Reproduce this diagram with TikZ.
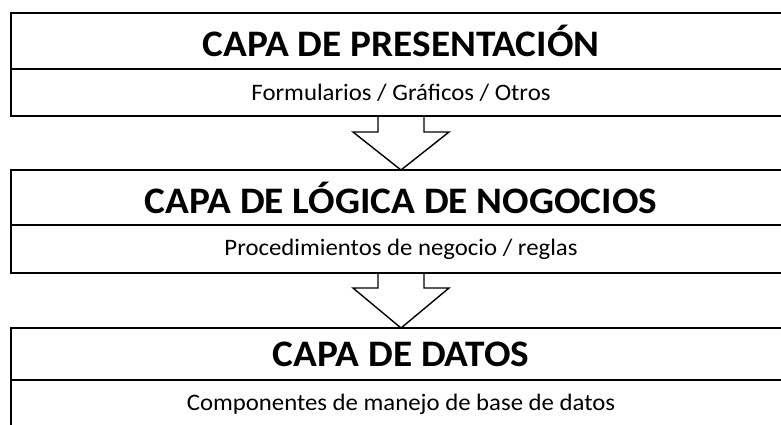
\documentclass[tikz,border=0pt]{standalone}
\usepackage{fontspec}
\setmainfont{Carlito}[FakeStretch=1.05]
\usetikzlibrary{calc}
\begin{document}
\begin{tikzpicture}[x=1pt,y=-1pt,
  frame/.style={draw=black, line width=2pt, minimum width=780pt, anchor=north west, inner sep=0pt, outer sep=0pt},
  ttl/.style={font=\fontsize{37.4}{41}\selectfont\bfseries},
  sub/.style={font=\fontsize{23.6}{27}\selectfont},
  blockarrow/.style={draw=black, line width=1.4pt, line join=miter}]
\useasboundingbox (0,0) rectangle (781,425);
\clip (0,0) rectangle (781,425);
\fill[white] (0,0) rectangle (781,425);
% layer 1
\node[frame, minimum height=56pt, ttl] (t1) at (11,13) {CAPA DE PRESENTACIÓN};
\node[frame, minimum height=47pt, sub] (s1) at (11,69) {Formularios / Gráficos / Otros};
% layer 2
\node[frame, minimum height=55pt, ttl] (t2) at (11,170) {CAPA DE LÓGICA DE NOGOCIOS};
\node[frame, minimum height=48pt, sub] (s2) at (11,225) {Procedimientos de negocio / reglas};
% layer 3
\node[frame, minimum height=52pt, ttl] (t3) at (11,328) {CAPA DE DATOS};
\node[frame, minimum height=48pt, sub] (s3) at (11,380) {Componentes de manejo de base de datos};
% arrows
\draw[blockarrow] ($(s1.south)+(-23,0)$) -- ++(0,16) -- ++(-25,0) -- (t2.north)
  -- ($(s1.south)+(48,16)$) -- ++(-25,0) -- ++(0,-16);
\draw[blockarrow] ($(s2.south)+(-23,0)$) -- ++(0,15) -- ++(-25,0) -- (t3.north)
  -- ($(s2.south)+(48,15)$) -- ++(-25,0) -- ++(0,-15);
\end{tikzpicture}
\end{document}
